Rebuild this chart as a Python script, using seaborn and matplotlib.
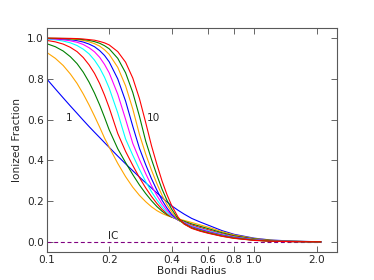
import matplotlib
matplotlib.use("Agg")
import matplotlib.pyplot as plt
import seaborn as sns
from matplotlib.ticker import FixedLocator, NullLocator, FixedFormatter

# bondi radius sample points (shared by all curves)
radius = [0.1, 0.11, 0.12, 0.13, 0.14, 0.15, 0.16, 0.17, 0.18, 0.19, 0.2, 0.22, 0.24, 0.26,
          0.28, 0.3, 0.32, 0.34, 0.36, 0.38, 0.4, 0.43, 0.46, 0.5, 0.55, 0.6, 0.7, 0.8,
          1.0, 1.2, 1.5, 2.1]

# ionized fraction, one list per output (1 .. 10)
frac_1 = [0.80, 0.751, 0.707, 0.667, 0.631, 0.597, 0.566, 0.538, 0.512, 0.487, 0.464, 0.421,
          0.383, 0.349, 0.318, 0.29, 0.264, 0.24, 0.217, 0.196, 0.177, 0.155, 0.136, 0.115,
          0.097, 0.082, 0.055, 0.037, 0.018, 0.009, 0.004, 0.0]
frac_2 = [0.93, 0.901, 0.866, 0.824, 0.778, 0.726, 0.672, 0.617, 0.563, 0.509, 0.465, 0.385,
          0.32, 0.268, 0.228, 0.197, 0.172, 0.153, 0.139, 0.129, 0.121, 0.113, 0.105, 0.095,
          0.083, 0.072, 0.05, 0.034, 0.016, 0.008, 0.003, 0.0]
frac_3 = [0.973, 0.958, 0.937, 0.909, 0.875, 0.833, 0.784, 0.73, 0.672, 0.611, 0.55, 0.457,
          0.389, 0.33, 0.279, 0.237, 0.202, 0.173, 0.15, 0.133, 0.122, 0.111, 0.101, 0.088,
          0.076, 0.065, 0.0445, 0.030, 0.014, 0.007, 0.0025, 0.0]
frac_4 = [0.989, 0.982, 0.971, 0.955, 0.934, 0.905, 0.869, 0.827, 0.777, 0.72, 0.659, 0.532,
          0.444, 0.375, 0.315, 0.265, 0.223, 0.188, 0.159, 0.137, 0.122, 0.108, 0.097, 0.083,
          0.07, 0.059, 0.04, 0.027, 0.012, 0.006, 0.002, 0.0]
frac_5 = [0.995, 0.992, 0.986, 0.977, 0.964, 0.946, 0.923, 0.892, 0.854, 0.808, 0.755, 0.633,
          0.505, 0.425, 0.356, 0.296, 0.246, 0.205, 0.171, 0.143, 0.125, 0.107, 0.095, 0.078,
          0.065, 0.055, 0.037, 0.024, 0.011, 0.005, 0.002, 0.0]
frac_6 = [0.998, 0.996, 0.992, 0.987, 0.98, 0.969, 0.953, 0.933, 0.906, 0.871, 0.83, 0.725,
          0.602, 0.483, 0.404, 0.335, 0.276, 0.227, 0.186, 0.154, 0.13, 0.107, 0.093, 0.075,
          0.062, 0.051, 0.034, 0.022, 0.01, 0.0045, 0.0016, 0.0]
frac_7 = [0.999, 0.998, 0.996, 0.993, 0.988, 0.981, 0.971, 0.958, 0.939, 0.915, 0.884, 0.80,
          0.691, 0.567, 0.459, 0.379, 0.31, 0.253, 0.204, 0.166, 0.135, 0.107, 0.091, 0.072,
          0.059, 0.048, 0.032, 0.021, 0.009, 0.004, 0.0014, 0.0]
frac_8 = [0.999, 0.999, 0.998, 0.996, 0.993, 0.989, 0.982, 0.973, 0.961, 0.943, 0.921, 0.857,
          0.766, 0.652, 0.527, 0.431, 0.352, 0.285, 0.228, 0.183, 0.147, 0.108, 0.089, 0.07,
          0.056, 0.046, 0.030, 0.019, 0.0082, 0.0036, 0.0013, 0.0]
frac_9 = [1.0, 0.999, 0.999, 0.998, 0.996, 0.993, 0.989, 0.983, 0.975, 0.963, 0.948, 0.901,
          0.83, 0.733, 0.616, 0.495, 0.405, 0.326, 0.258, 0.204, 0.161, 0.113, 0.088, 0.068,
          0.054, 0.044, 0.028, 0.018, 0.0076, 0.0033, 0.0011, 0.0]
frac_10 = [1.0, 1.0, 0.999, 0.999, 0.998, 0.996, 0.993, 0.99, 0.984, 0.977, 0.967, 0.934,
           0.882, 0.804, 0.703, 0.586, 0.472, 0.379, 0.298, 0.232, 0.179, 0.121, 0.087, 0.066,
           0.052, 0.042, 0.027, 0.017, 0.007, 0.003, 0.001, 0.0]

# initial condition line
ic_radius = [0.1, 2.1]
ic_frac = [0.0, 0.0]

xticks = [0.1, 0.2, 0.4, 0.6, 0.8, 1.0, 2.0]
xtick_labels = ['0.1', '0.2', '0.4', '0.6', '0.8', '1.0', '2.0']
yticks = [0.0, 0.2, 0.4, 0.6, 0.8, 1.0]
ytick_labels = ['0.0', '0.2', '0.4', '0.6', '0.8', '1.0']

curves = [frac_1, frac_2, frac_3, frac_4, frac_5, frac_6, frac_7, frac_8, frac_9, frac_10]
colours = ['blue', 'orange', 'green', 'red', 'cyan', 'magenta', 'blue', 'orange', 'green', 'red']

sns.set_style("ticks", {"xtick.direction": "in", "ytick.direction": "in"})
plt.rcParams['font.family'] = ['DejaVu Sans']
fs = 7.6

fig = plt.figure(figsize=(3.74, 2.8), dpi=100)
ax = fig.add_axes([0.125, 0.1, 0.775, 0.8])

sns.lineplot(x=ic_radius, y=ic_frac, ax=ax, color='purple', lw=0.8,
             linestyle=(0, (3.6, 2.4)), estimator=None)
for vals, c in zip(curves, colours):
    sns.lineplot(x=radius, y=vals, ax=ax, color=c, lw=0.8, estimator=None)

ax.set_xscale('log')
ax.set_xlim(0.1, 2.5)
ax.set_ylim(-0.05, 1.05)
ax.xaxis.set_major_locator(FixedLocator(xticks))
ax.xaxis.set_major_formatter(FixedFormatter(xtick_labels))
ax.xaxis.set_minor_locator(NullLocator())
ax.yaxis.set_major_locator(FixedLocator(yticks))
ax.yaxis.set_major_formatter(FixedFormatter(ytick_labels))
ax.tick_params(which='both', top=True, right=True, length=4, width=0.6,
               labelsize=fs, pad=2, color='0.3')
for sp in ax.spines.values():
    sp.set_linewidth(0.8)
    sp.set_color('0.35')

ax.set_xlabel('Bondi Radius', fontsize=fs, labelpad=1)
ax.set_ylabel('Ionized Fraction', fontsize=fs, labelpad=3.5)

ax.text(0.128, 0.61, '1', ha='center', va='center', fontsize=fs)
ax.text(0.329, 0.61, '10', ha='center', va='center', fontsize=fs)
ax.text(0.21, 0.031, 'IC', ha='center', va='center', fontsize=fs)

fig.savefig('out.png', dpi=100)
